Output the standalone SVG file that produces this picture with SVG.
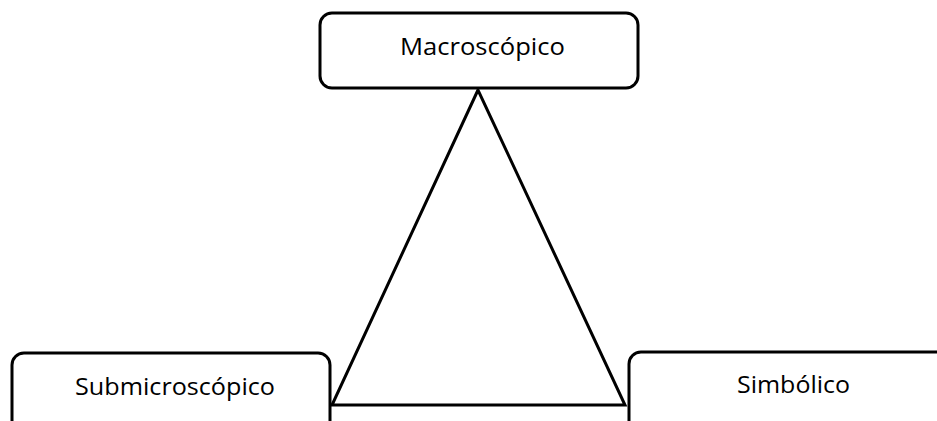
<svg xmlns="http://www.w3.org/2000/svg" width="937" height="421" viewBox="0 0 937 421">
<style>
.box{fill:#fff;stroke:#000;stroke-width:3}
.lbl{font-family:"Open Sans","Liberation Sans",sans-serif;font-size:24px;fill:#000;lengthAdjust:spacingAndGlyphs}
.edge{fill:none;stroke:#000;stroke-width:3;stroke-linejoin:miter}
</style>
<rect x="0" y="0" width="937" height="421" fill="#fff"/>
<g id="connectors">
<polygon class="edge" points="478,90 332,405 625,405"/>
</g>
<g id="macroscopico">
<rect class="box" x="320" y="13" width="318" height="75" rx="12"/>
<text class="lbl" x="400" y="55" textLength="165" lengthAdjust="spacingAndGlyphs">Macroscópico</text>
</g>
<g id="submicroscopico">
<rect class="box" x="12" y="353" width="318" height="90" rx="12"/>
<text class="lbl" x="75" y="395" textLength="200" lengthAdjust="spacingAndGlyphs">Submicroscópico</text>
</g>
<g id="simbolico">
<rect class="box" x="629" y="352" width="340" height="90" rx="12"/>
<text class="lbl" x="737" y="393" textLength="113" lengthAdjust="spacingAndGlyphs">Simbólico</text>
</g>
</svg>
